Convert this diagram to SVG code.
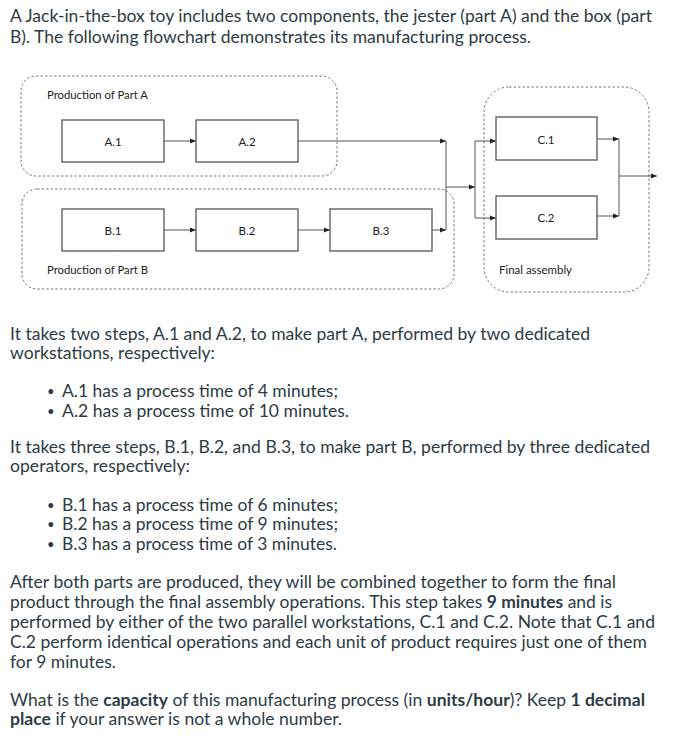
<svg xmlns="http://www.w3.org/2000/svg" width="695" height="741" viewBox="0 0 695 741">
<defs>
<marker id="ah" viewBox="0 0 6 6" refX="6" refY="3" markerWidth="6" markerHeight="6" markerUnits="userSpaceOnUse" orient="auto">
<path d="M0,0.5 L6,3 L0,5.5 z" fill="#222"/>
</marker>
<style>
.body{font-family:Lato,"Liberation Sans",sans-serif;font-size:16.5px;fill:#2d3b45}
.b{font-weight:bold}
.dot{font-size:13px}
.grp{fill:none;stroke:#777;stroke-width:1;stroke-dasharray:2.5,2}
.box{fill:#fff;stroke:#555;stroke-width:1.3}
.lbl{font-family:Lato,"Liberation Sans",sans-serif;font-size:11.2px;fill:#222}
.nl{font-family:Lato,"Liberation Sans",sans-serif;font-size:11.5px;fill:#222;text-anchor:middle;dominant-baseline:central}
.c{fill:none;stroke:#555;stroke-width:1}
.ca{fill:none;stroke:#555;stroke-width:1;marker-end:url(#ah)}
</style>
</defs>
<rect width="695" height="741" fill="#fff"/>

<g class="body">
<text x="10" y="22" textLength="642" lengthAdjust="spacingAndGlyphs">A Jack-in-the-box toy includes two components, the jester (part A) and the box (part</text>
<text x="10" y="43" textLength="521" lengthAdjust="spacingAndGlyphs">B). The following flowchart demonstrates its manufacturing process.</text>
</g>

<g id="groupA"><rect class="grp" x="21" y="76" width="316" height="100" rx="15"/><text class="lbl" x="47" y="99" textLength="101" lengthAdjust="spacingAndGlyphs">Production of Part A</text></g>
<g id="groupB"><rect class="grp" x="22" y="189" width="432" height="100" rx="15"/><text class="lbl" x="47" y="274" textLength="101" lengthAdjust="spacingAndGlyphs">Production of Part B</text></g>
<g id="groupC"><rect class="grp" x="484" y="87" width="165" height="205" rx="25"/><text class="lbl" x="499" y="274" textLength="73" lengthAdjust="spacingAndGlyphs">Final assembly</text></g>

<g id="connectors">
<path class="ca" d="M164,141 H196"/>
<path class="ca" d="M298,141 H446"/>
<path class="ca" d="M164,230 H196"/>
<path class="ca" d="M298,230 H330"/>
<path class="ca" d="M432,230 H446"/>
<path class="c" d="M446,141 V230"/>
<path class="ca" d="M446,187 H475"/>
<path class="c" d="M475,141 V218"/>
<path class="ca" d="M475,141 H496"/>
<path class="ca" d="M475,218 H496"/>
<path class="ca" d="M597,139 H619"/>
<path class="ca" d="M597,216 H619"/>
<path class="c" d="M619,139 V216"/>
<path class="ca" d="M619,176 H657"/>
</g>

<g id="A1"><rect class="box" x="62" y="120" width="102" height="42"/><text class="nl" x="113" y="141">A.1</text></g>
<g id="A2"><rect class="box" x="196" y="120" width="102" height="42"/><text class="nl" x="247" y="141">A.2</text></g>
<g id="B1"><rect class="box" x="62" y="209" width="102" height="42"/><text class="nl" x="113" y="230">B.1</text></g>
<g id="B2"><rect class="box" x="196" y="209" width="102" height="42"/><text class="nl" x="247" y="230">B.2</text></g>
<g id="B3"><rect class="box" x="330" y="209" width="102" height="42"/><text class="nl" x="381" y="230">B.3</text></g>
<g id="C1"><rect class="box" x="496" y="117" width="101" height="43"/><text class="nl" x="546" y="139">C.1</text></g>
<g id="C2"><rect class="box" x="496" y="196" width="101" height="43"/><text class="nl" x="546" y="217">C.2</text></g>

<g class="body">
<text x="10" y="340" textLength="580" lengthAdjust="spacingAndGlyphs">It takes two steps, A.1 and A.2, to make part A, performed by two dedicated</text>
<text x="10" y="359" textLength="205" lengthAdjust="spacingAndGlyphs">workstations, respectively:</text>
<text class="dot" x="47" y="396">•</text><text x="62" y="397" textLength="276" lengthAdjust="spacingAndGlyphs">A.1 has a process time of 4 minutes;</text>
<text class="dot" x="47" y="416">•</text><text x="62" y="417" textLength="287" lengthAdjust="spacingAndGlyphs">A.2 has a process time of 10 minutes.</text>
<text x="10" y="453" textLength="640" lengthAdjust="spacingAndGlyphs">It takes three steps, B.1, B.2, and B.3, to make part B, performed by three dedicated</text>
<text x="10" y="472" textLength="180" lengthAdjust="spacingAndGlyphs">operators, respectively:</text>
<text class="dot" x="47" y="510">•</text><text x="62" y="511" textLength="276" lengthAdjust="spacingAndGlyphs">B.1 has a process time of 6 minutes;</text>
<text class="dot" x="47" y="529">•</text><text x="62" y="530" textLength="276" lengthAdjust="spacingAndGlyphs">B.2 has a process time of 9 minutes;</text>
<text class="dot" x="47" y="549">•</text><text x="62" y="550" textLength="275" lengthAdjust="spacingAndGlyphs">B.3 has a process time of 3 minutes.</text>
<text x="10" y="588" textLength="606" lengthAdjust="spacingAndGlyphs">After both parts are produced, they will be combined together to form the final</text>
<text x="10" y="608" textLength="602" lengthAdjust="spacingAndGlyphs">product through the final assembly operations. This step takes <tspan class="b">9 minutes</tspan> and is</text>
<text x="10" y="628" textLength="645" lengthAdjust="spacingAndGlyphs">performed by either of the two parallel workstations, C.1 and C.2. Note that C.1 and</text>
<text x="10" y="648" textLength="637" lengthAdjust="spacingAndGlyphs">C.2 perform identical operations and each unit of product requires just one of them</text>
<text x="10" y="668" textLength="106" lengthAdjust="spacingAndGlyphs">for 9 minutes.</text>
<text x="10" y="706" textLength="635" lengthAdjust="spacingAndGlyphs">What is the <tspan class="b">capacity</tspan> of this manufacturing process (in <tspan class="b">units/hour</tspan>)? Keep <tspan class="b">1 decimal</tspan></text>
<text x="10" y="725" textLength="332" lengthAdjust="spacingAndGlyphs"><tspan class="b">place</tspan> if your answer is not a whole number.</text>
</g>
</svg>
